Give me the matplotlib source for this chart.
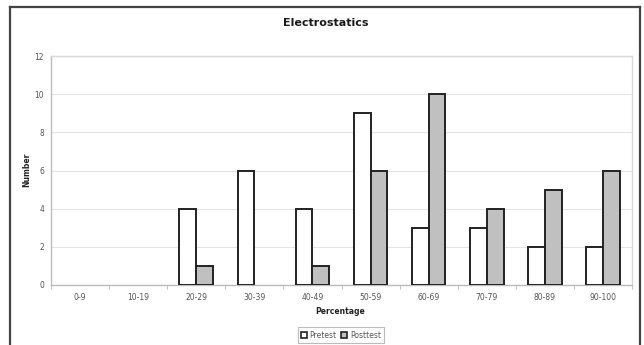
import matplotlib
matplotlib.use("Agg")
import matplotlib.pyplot as plt
from matplotlib.lines import Line2D
from matplotlib.patches import Patch
import numpy as np

categories = ["0-9", "10-19", "20-29", "30-39", "40-49",
              "50-59", "60-69", "70-79", "80-89", "90-100"]
pretest = [0, 0, 4, 6, 4, 9, 3, 3, 2, 2]
posttest = [0, 0, 1, 0, 1, 6, 10, 4, 5, 6]
y_ticks = [0, 2, 4, 6, 8, 10, 12]

plt.rcParams["font.family"] = ["DejaVu Sans"]

fig = plt.figure(figsize=(6.44, 3.45), dpi=100)
W, H = 644, 345

# outer chart frame
frame_kw = dict(color="#444444", lw=1.6, transform=fig.transFigure)
fig.add_artist(Line2D([10 / W, 10 / W], [0, 1 - 7 / H], **frame_kw))
fig.add_artist(Line2D([10 / W, 640 / W], [1 - 7 / H, 1 - 7 / H], **frame_kw))
fig.add_artist(Line2D([640 / W, 640 / W], [0, 1 - 7 / H], **frame_kw))

ax = fig.add_axes([51 / W, 1 - 285 / H, (632 - 51) / W, (285 - 56) / H])

x = np.arange(len(categories))
bw = 0.29
pre_lw = [1.4 if v > 0 else 0 for v in pretest]
post_lw = [1.4 if v > 0 else 0 for v in posttest]
ax.bar(x - bw / 2, pretest, width=bw, color="white", edgecolor="#222222",
       linewidth=pre_lw, zorder=3)
ax.bar(x + bw / 2, posttest, width=bw, color="#c0c0c0", edgecolor="#222222",
       linewidth=post_lw, zorder=3)

ax.set_xlim(-0.5, len(categories) - 0.5)
ax.set_ylim(0, 12)
ax.set_yticks(y_ticks)
ax.set_yticklabels([str(v) for v in y_ticks], fontsize=5.5, color="#555555")
ax.set_xticks(x)
ax.set_xticklabels(categories, fontsize=5.5, color="#555555")
ax.set_xticks(np.arange(-0.5, len(categories)), minor=True)
ax.tick_params(axis="x", which="major", length=0, pad=6)
ax.tick_params(axis="x", which="minor", length=3, color="#bbbbbb")
ax.tick_params(axis="y", length=0, pad=5)

ax.grid(axis="y", color="#e4e4e4", lw=0.8, zorder=0)
for s in ["top", "right"]:
    ax.spines[s].set_color("#d8d8d8")
for s in ["left", "bottom"]:
    ax.spines[s].set_color("#bbbbbb")
for s in ax.spines.values():
    s.set_linewidth(1.0)

fig.text(326 / W, 1 - 23 / H, "Electrostatics", ha="center", va="center",
         fontsize=8, fontweight="bold", color="#1a1a1a")
fig.text(340 / W, 1 - 312 / H, "Percentage", ha="center", va="center",
         fontsize=5.5, fontweight="bold", color="#222222")
fig.text(27 / W, 1 - 170 / H, "Number", ha="center", va="center", rotation=90,
         fontsize=5.5, fontweight="bold", color="#222222")

handles = [Patch(facecolor="white", edgecolor="#222222", lw=1.2, label="Pretest"),
           Patch(facecolor="#c0c0c0", edgecolor="#222222", lw=1.2, label="Posttest")]
leg = fig.legend(handles=handles, loc="center", bbox_to_anchor=(341 / W, 1 - 335 / H),
                 ncol=2, fontsize=5.5, frameon=True, fancybox=False,
                 handlelength=0.8, handleheight=0.8, handletextpad=0.3,
                 columnspacing=0.6, borderpad=0.4, borderaxespad=0)
leg.get_frame().set_edgecolor("#aaaaaa")
leg.get_frame().set_linewidth(0.8)
for t in leg.get_texts():
    t.set_color("#555555")

fig.savefig("out.png", dpi=100)
